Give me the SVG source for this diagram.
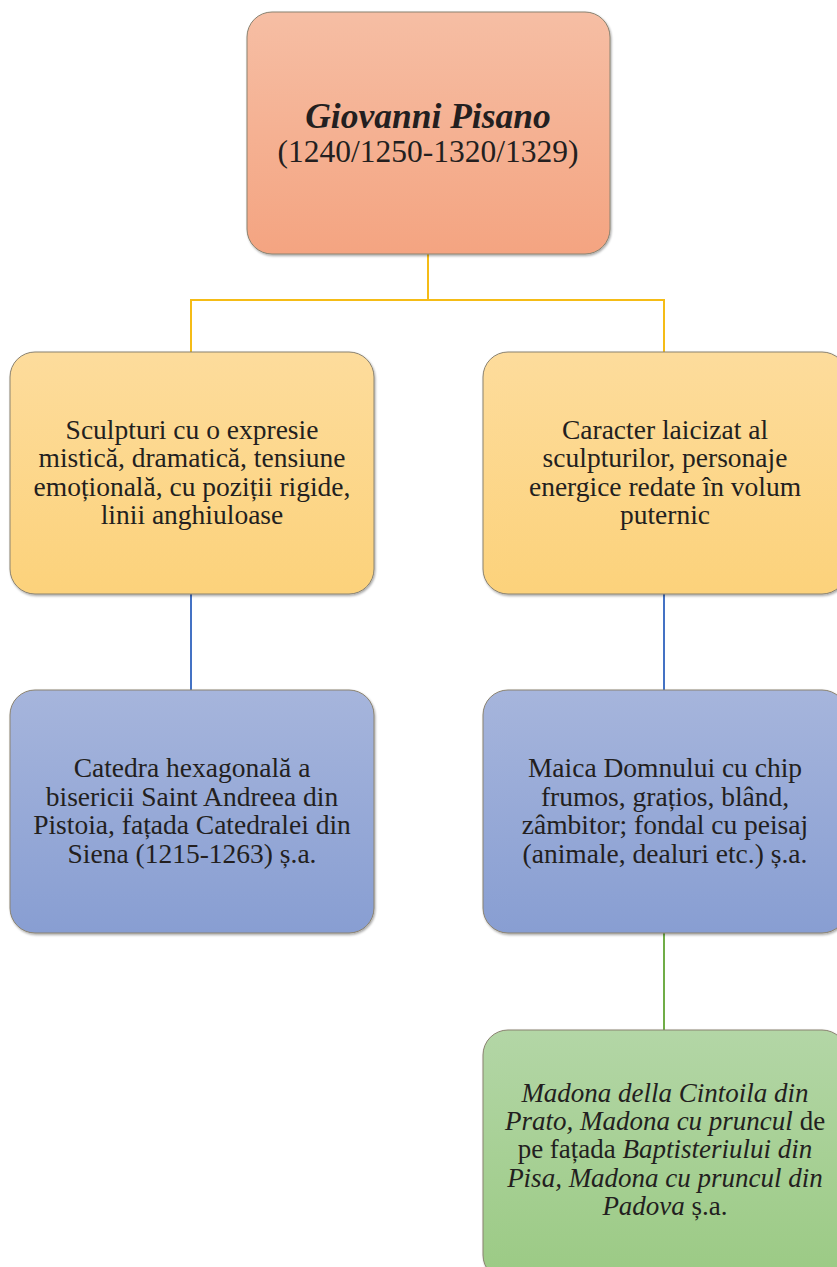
<svg xmlns="http://www.w3.org/2000/svg" width="837" height="1267" viewBox="0 0 837 1267">
<defs>
<linearGradient id="gOr" x1="0" y1="0" x2="0" y2="1"><stop offset="0" stop-color="#F6BEA4"/><stop offset="1" stop-color="#F4A481"/></linearGradient>
<linearGradient id="gYe" x1="0" y1="0" x2="0" y2="1"><stop offset="0" stop-color="#FDDC9C"/><stop offset="1" stop-color="#FCD27B"/></linearGradient>
<linearGradient id="gBl" x1="0" y1="0" x2="0" y2="1"><stop offset="0" stop-color="#A6B5DC"/><stop offset="1" stop-color="#889ED2"/></linearGradient>
<linearGradient id="gGr" x1="0" y1="0" x2="0" y2="1"><stop offset="0" stop-color="#B3D6A6"/><stop offset="1" stop-color="#9BCA84"/></linearGradient>
<filter id="sh" x="-5%" y="-5%" width="110%" height="110%"><feDropShadow dx="1" dy="1.5" stdDeviation="1.2" flood-color="#000" flood-opacity="0.35"/></filter>
</defs>
<style>
.box{stroke:#8a8270;stroke-width:1;filter:url(#sh)}
.t{font-family:"Liberation Serif","Times New Roman",serif;font-size:27.5px;fill:#231f20;text-anchor:middle}
.g{font-size:27px}
.h1{font-size:35.5px;font-weight:bold;font-style:italic}
.h2{font-size:31.5px}
.i{font-style:italic}
.con{fill:none;stroke-width:2}
</style>
<rect width="837" height="1267" fill="#fff"/>
<g id="connectors">
<path class="con" stroke="#F5BC16" d="M428,254V300H191V352M428,300H664V352"/>
<path class="con" stroke="#4472C4" d="M191,594V690M664,594V690"/>
<path class="con" stroke="#70AD47" d="M664,933V1030"/>
</g>
<g id="n0" class="t">
<rect class="box" x="247" y="12" width="363" height="242" rx="25" fill="url(#gOr)"/>
<text class="h1" x="428" y="128">Giovanni Pisano</text>
<text class="h2" x="428" y="162">(1240/1250-1320/1329)</text>
</g>
<g id="n1" class="t">
<rect class="box" x="10" y="352" width="364" height="242" rx="25" fill="url(#gYe)"/>
<text x="192" y="439">Sculpturi cu o expresie</text>
<text x="192" y="467">mistică, dramatică, tensiune</text>
<text x="192" y="496">emoțională, cu poziții rigide,</text>
<text x="192" y="524">linii anghiuloase</text>
</g>
<g id="n2" class="t">
<rect class="box" x="483" y="352" width="364" height="242" rx="25" fill="url(#gYe)"/>
<text x="665" y="439">Caracter laicizat al</text>
<text x="665" y="467">sculpturilor, personaje</text>
<text x="665" y="496">energice redate în volum</text>
<text x="665" y="524">puternic</text>
</g>
<g id="n3" class="t">
<rect class="box" x="10" y="690" width="364" height="243" rx="25" fill="url(#gBl)"/>
<text x="192" y="777">Catedra hexagonală a</text>
<text x="192" y="806">bisericii Saint Andreea din</text>
<text x="192" y="834">Pistoia, fațada Catedralei din</text>
<text x="192" y="863">Siena (1215-1263) ș.a.</text>
</g>
<g id="n4" class="t">
<rect class="box" x="483" y="690" width="364" height="243" rx="25" fill="url(#gBl)"/>
<text x="665" y="777">Maica Domnului cu chip</text>
<text x="665" y="806">frumos, grațios, blând,</text>
<text x="665" y="834">zâmbitor; fondal cu peisaj</text>
<text x="665" y="863">(animale, dealuri etc.) ș.a.</text>
</g>
<g id="n5" class="t">
<rect class="box" x="483" y="1030" width="364" height="250" rx="25" fill="url(#gGr)"/>
<text class="g i" x="665" y="1102">Madona della Cintoila din</text>
<text class="g" x="665" y="1130"><tspan class="i">Prato, Madona cu pruncul</tspan> de</text>
<text class="g" x="665" y="1158">pe fațada <tspan class="i">Baptisteriului din</tspan></text>
<text class="g i" x="665" y="1187">Pisa, Madona cu pruncul din</text>
<text class="g" x="665" y="1215"><tspan class="i">Padova</tspan> ș.a.</text>
</g>
</svg>
